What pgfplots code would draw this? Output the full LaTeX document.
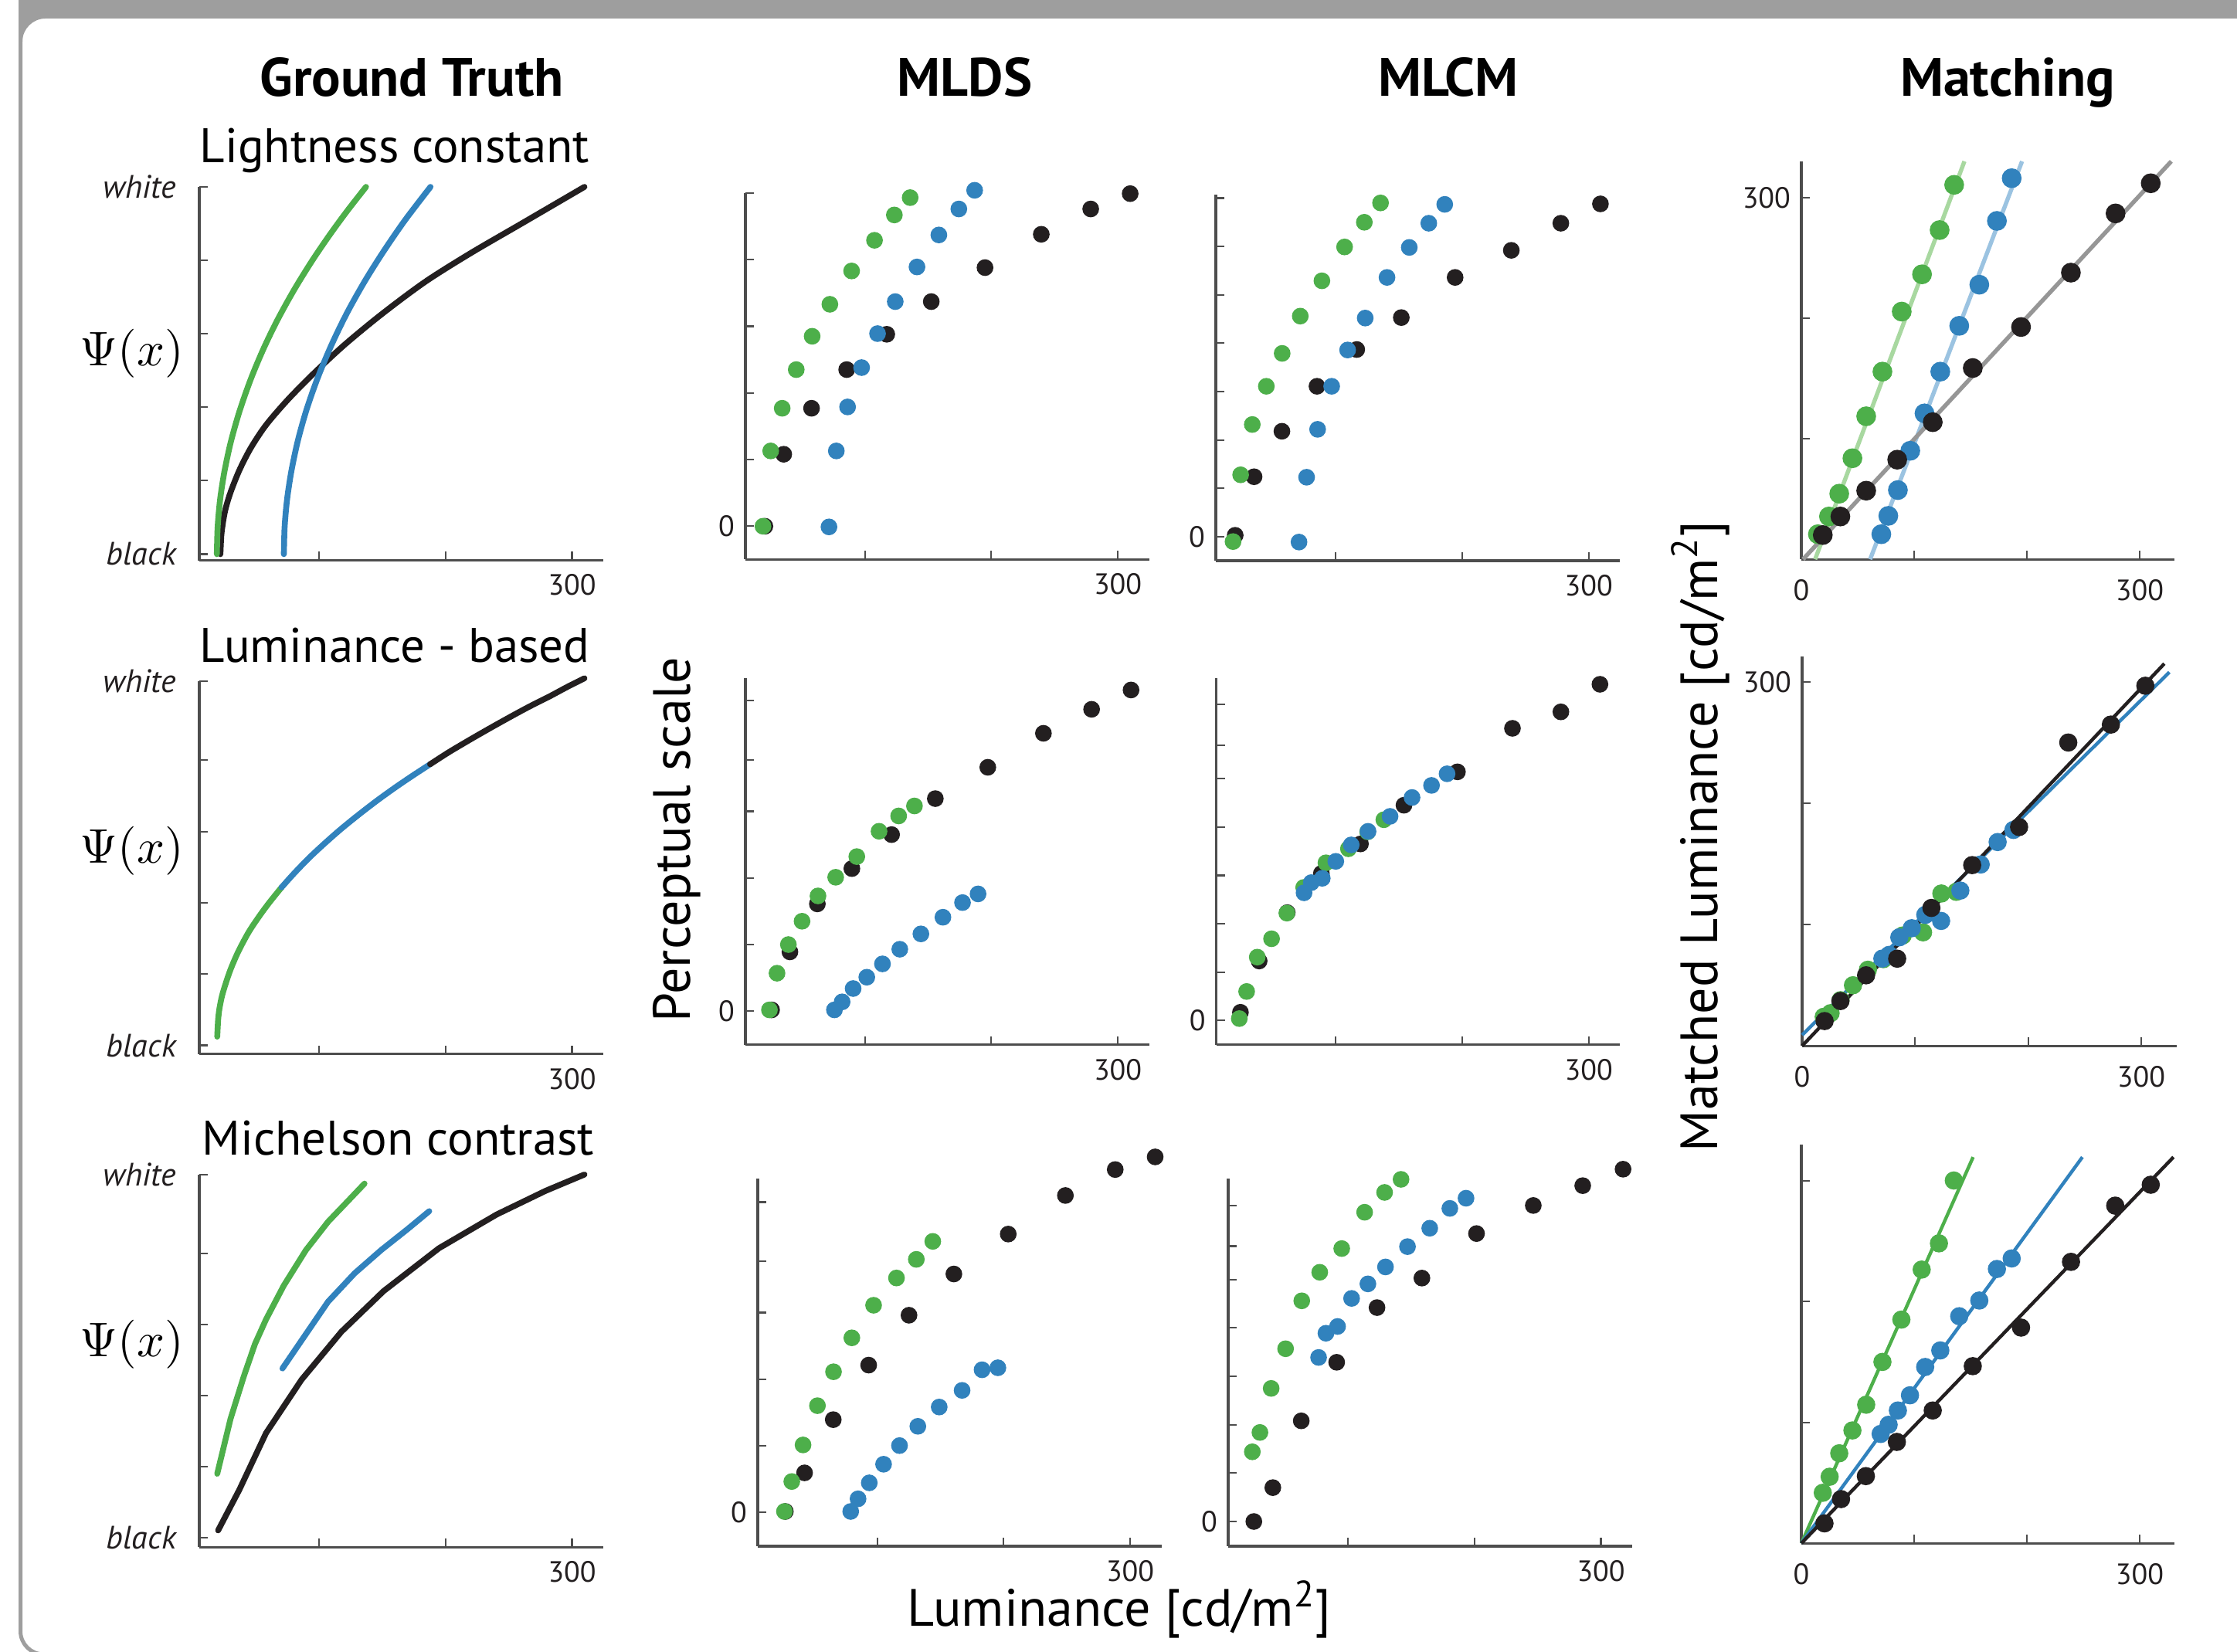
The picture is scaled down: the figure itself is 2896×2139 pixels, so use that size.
\documentclass[border=0pt]{standalone}
\usepackage{pgfplots}
\pgfplotsset{compat=1.18}
\usepackage{fontspec}
\setmainfont{PT Sans}

\definecolor{cgreen}{RGB}{77,175,74}
\definecolor{cblue}{RGB}{49,130,189}
\definecolor{cblack}{RGB}{35,31,32}
\definecolor{lgreen}{RGB}{168,216,160}
\definecolor{lblue}{RGB}{155,195,225}
\definecolor{cgray}{RGB}{150,150,150}
\definecolor{axisgray}{RGB}{77,77,77}
\definecolor{framegray}{RGB}{158,158,158}

\pgfplotsset{
  panel/.style={
    scale only axis, anchor=south west, clip=false,
    axis x line=bottom, axis y line=left,
    axis line style={-, draw=axisgray, line width=0.8pt},
    tick style={draw=axisgray, line width=0.55pt},
    tick align=inside, major tick length=2.8pt,
    tick label style={font=\fontsize{9.5}{11}\selectfont, text=cblack},
    /pgf/number format/assume math mode=true,
    xtick={100,200,300}, xticklabels={,,300},
    xticklabel style={yshift=-1pt},
  },
  gt/.style={panel, xmin=5.1, xmax=324.7, ymax=1,
    width=130.75pt,
    yticklabels={black,,,,,white},
    yticklabel style={font=\itshape\fontsize{10.5}{12}\selectfont, xshift=-4pt},
  },
  mlds/.style={panel, width=130.75pt, xmin=5.5, xmax=325},
  match/.style={panel, xmin=0,
    xtick={0,100,200,300}, xticklabels={0,,,300},
    ytick={100,200,300}, yticklabels={,,300},
    xticklabel style={yshift=-2pt},
  },
  gtline/.style={line width=1.9pt, line cap=round, line join=round},
  dots/.style={only marks, mark=*, mark size=2.5pt, mark options={draw=none}},
}

\begin{document}
\begin{tikzpicture}[x=0.25pt, y=0.25pt]
\useasboundingbox (0,0) rectangle (2896,2139);
\fill[white] (0,0) rectangle (2896,2139);
% frame
\fill[framegray] (24,2139-24) rectangle (2900,2145);
\fill[framegray] (29,2139-24) -- (29,2139-54) arc[start angle=180, end angle=90, radius=30] -- cycle;
\draw[framegray, line width=1.25pt] (26.5,2145) -- (26.5,2139-2112) arc[start angle=180, end angle=270, radius=30] -- (2900,2139-2142);

% corners of the panels (bottom left)
\coordinate (gt1) at (258,2139-725.6);
\coordinate (gt2) at (258,2139-1364.9);
\coordinate (gt3) at (258,2139-2003.2);
\coordinate (ds1) at (965,2139-724.3);
\coordinate (ds2) at (965,2139-1352.9);
\coordinate (ds3) at (981,2139-2002);
\coordinate (cm1) at (1574,2139-726);
\coordinate (cm2) at (1574.6,2139-1352.9);
\coordinate (cm3) at (1590,2139-2002);
\coordinate (mt1) at (2332,2139-724.2);
\coordinate (mt2) at (2333,2139-1354.3);
\coordinate (mt3) at (2332,2139-1998.3);

% column headers
\begin{scope}[every node/.style={anchor=base, inner sep=0pt, font=\bfseries\fontsize{17.5}{20}\selectfont}]
\node at (533,2139-125) {Ground Truth};
\node at (1249,2139-125) {MLDS};
\node at (1875,2139-125) {MLCM};
\node at (2599,2139-125) {Matching};
\end{scope}

\begin{scope}[every node/.style={anchor=base west, inner sep=0pt, font=\fontsize{15.7}{18}\selectfont}]
\node at (258,2139-211) {Lightness constant};
\node at (258,2139-857.6) {Luminance - based};
\node at (261,2139-1495.7) {Michelson contrast};
\end{scope}

\begin{scope}[every node/.style={inner sep=0pt, scale=1.575}]
\node at (171,2139-458) {$\Psi(x)$};
\node at (171,2139-1102) {$\Psi(x)$};
\node at (171,2139-1741) {$\Psi(x)$};
\end{scope}

\begin{scope}[every node/.style={inner sep=0pt, font=\fontsize{17}{20}\selectfont}]
\node[rotate=90, anchor=base] at (893,2139-1087) {Perceptual scale};
\node[anchor=base] at (1449,2139-2106) {Luminance [cd/m\textsuperscript{2}]};
\node[rotate=90, anchor=base] at (2223,2139-1083) {Matched Luminance [cd/m\textsuperscript{2}]};
\end{scope}

% ---------------- Ground truth ----------------
\begin{axis}[gt, at={(gt1)}, height=120.9pt, ymin=-0.017,
  ytick={0,0.2,0.4,0.6,0.8,1}]
\addplot[cblack, gtline, smooth] coordinates {(21.8,0) (22.5,0.05) (24,0.09) (26,0.125) (30,0.17) (37,0.23) (46,0.29) (58,0.352) (75,0.42) (95,0.49) (120,0.57) (150,0.655) (184,0.742) (220,0.82) (260,0.9) (309.8,1.0)};
\addplot[cgreen, gtline, smooth] coordinates {(19,0) (19.5,0.065) (20.5,0.113) (22,0.16) (25,0.225) (30,0.305) (37,0.39) (46,0.478) (56,0.56) (67,0.638) (80,0.719) (94,0.797) (108,0.868) (122,0.934) (137,1.0)};
\addplot[cblue, gtline, smooth] coordinates {(72,0) (72.5,0.066) (73.5,0.114) (75,0.161) (78,0.227) (83,0.308) (90,0.394) (99,0.482) (110,0.572) (122,0.657) (136,0.743) (151,0.825) (168,0.91) (188,1.0)};
\end{axis}

\begin{axis}[gt, at={(gt2)}, height=120.7pt, ymin=-0.024,
  ytick={0,0.1957,0.391,0.587,0.783,1}]
\addplot[cgreen, gtline, smooth] coordinates {(19.3,0.024) (20,0.07) (21,0.10) (23,0.135) (26,0.17) (30,0.21) (36,0.258) (44,0.31) (52,0.352) (60,0.39) (70.2,0.434)};
\addplot[cblue, gtline, smooth] coordinates {(70.2,0.434) (80,0.472) (92,0.515) (105,0.557) (117.5,0.595) (131,0.633) (145.6,0.672) (160,0.708) (174,0.741) (187.7,0.772)};
\addplot[cblack, gtline, smooth] coordinates {(187.7,0.772) (202,0.804) (217,0.835) (233,0.867) (250,0.9) (266,0.93) (282,0.958) (296,0.984) (309.8,1.008)};
\end{axis}

\begin{axis}[gt, at={(gt3)}, height=120.6pt, ymin=-0.026,
  ytick={0,0.1957,0.391,0.587,0.783,1}]
\addplot[cblack, gtline] coordinates {(20,0.02) (36.8,0.132) (57.9,0.288) (86,0.435) (117.5,0.567) (150.9,0.679) (194.7,0.797) (240.4,0.890) (279,0.955) (309.8,1.0)};
\addplot[cgreen, gtline] coordinates {(19.3,0.176) (29.8,0.327) (40.4,0.445) (49.1,0.533) (57.9,0.601) (71.9,0.694) (89.5,0.792) (107,0.870) (124.6,0.934) (135.8,0.975)};
\addplot[cblue, gtline] coordinates {(70.9,0.466) (86,0.543) (107,0.650) (128,0.728) (149,0.792) (170,0.850) (187,0.899)};
\end{axis}

% ---------------- MLDS ----------------
\begin{axis}[mlds, at={(ds1)}, height=118.6pt, ymin=-0.497, ymax=5,
  ytick={0,1,2,3,4,5}, yticklabels={0,,,,,}]
\addplot[cblack, dots] coordinates {(20.9,0) (35.8,1.08) (57.8,1.77) (85.6,2.35) (117.3,2.88) (152.5,3.37) (195,3.88) (239.5,4.38) (278.6,4.76) (309.8,4.99)};
\addplot[cgreen, dots] coordinates {(19.4,0) (25.5,1.13) (34.6,1.77) (45.7,2.35) (58.3,2.85) (72.3,3.33) (89.5,3.83) (107.6,4.29) (123.3,4.67) (135.8,4.93)};
\addplot[cblue, dots] coordinates {(71.6,-0.01) (77.4,1.13) (86.3,1.79) (97.4,2.38) (110,2.89) (124,3.37) (141.2,3.89) (158.5,4.37) (174.3,4.76) (186.8,5.04)};
\end{axis}

\begin{axis}[mlds, at={(ds2)}, height=118.75pt, ymin=-0.505, ymax=5,
  ytick={0,1,2,3,3.77,4.66}, yticklabels={0,,,,,}]
\addplot[cblack, dots] coordinates {(26.2,0.02) (40.7,0.89) (62.4,1.61) (89.7,2.14) (121.1,2.65) (155.7,3.19) (197.2,3.66) (241.2,4.17) (279.3,4.53) (310.5,4.82)};
\addplot[cgreen, dots] coordinates {(24.5,0.02) (30.5,0.57) (39.5,1.0) (50.3,1.35) (62.9,1.73) (76.9,2.01) (93.6,2.32) (111.2,2.70) (126.7,2.93) (139.2,3.08)};
\addplot[cblue, dots] coordinates {(75.9,0.02) (82,0.14) (90.7,0.34) (101.5,0.51) (113.9,0.71) (127.6,0.93) (144.3,1.16) (161.7,1.41) (177.2,1.63) (189.5,1.76)};
\end{axis}

\begin{axis}[mlds, at={(ds3)}, height=118.9pt, ymin=-0.512, ymax=5.01,
  ytick={0,1,2,3,3.77,4.66}, yticklabels={0,,,,,}]
\addplot[cblack, dots] coordinates {(27.3,0.01) (42.5,0.59) (65.2,1.39) (93.2,2.21) (125.1,2.96) (160.6,3.58) (203.6,4.18) (248.8,4.76) (288.2,5.15) (319.8,5.34)};
\addplot[cgreen, dots] coordinates {(26.6,0.01) (32.4,0.46) (41.3,1.01) (52.7,1.6) (65.4,2.11) (79.9,2.62) (97.1,3.11) (115.2,3.52) (130.9,3.8) (143.9,4.07)};
\addplot[cblue, dots] coordinates {(79,0.01) (84.8,0.2) (93.7,0.44) (105,0.72) (117.6,1.0) (132.1,1.29) (149,1.58) (167.1,1.83) (182.9,2.14) (195.4,2.17)};
\end{axis}

% ---------------- MLCM ----------------
\begin{axis}[mlds, at={(cm1)}, height=118.55pt, xmax=324.6, ymin=-0.495, ymax=7.075,
  ytick={0,1,2,3,4,5,6,7}, yticklabels={0,,,,,,,}]
\addplot[cblack, dots] coordinates {(20.8,0.03) (35.7,1.24) (57.7,2.18) (85.4,3.11) (116.8,3.87) (152,4.53) (194.5,5.36) (238.9,5.92) (278,6.48) (309.3,6.88)};
\addplot[cgreen, dots] coordinates {(19.1,-0.1) (25.1,1.28) (34.3,2.32) (45.4,3.11) (57.9,3.79) (72.2,4.56) (89.3,5.29) (107.2,5.99) (122.8,6.5) (135.6,6.9)};
\addplot[cblue, dots] coordinates {(71.2,-0.11) (77.2,1.23) (85.9,2.22) (97,3.11) (109.6,3.86) (123.5,4.52) (140.7,5.36) (158.3,5.98) (173.7,6.48) (186.3,6.87)};
\end{axis}

\begin{axis}[mlds, at={(cm2)}, width=130.6pt, height=118.75pt, xmax=324.6, ymin=-0.503, ymax=7.08,
  ytick={0,1,2,3,4,5,5.69,6.53}, yticklabels={0,,,,,,,}]
\addplot[cblack, dots] coordinates {(24.6,0.17) (39.4,1.23) (61.6,2.23) (88.6,3.04) (119.5,3.65) (153.9,4.45) (196.2,5.14) (239.7,6.04) (278,6.38) (308.9,6.95)};
\addplot[cgreen, dots] coordinates {(23.7,0.04) (29.5,0.6) (37.9,1.31) (49.2,1.69) (61.3,2.22) (74.6,2.75) (92.2,3.26) (110,3.55) (125.2,3.9) (138,4.15)};
\addplot[cblue, dots] coordinates {(74.9,2.64) (80.6,2.85) (89.3,2.94) (100,3.29) (112.2,3.63) (125.5,3.91) (142.9,4.22) (160.3,4.61) (175.7,4.86) (188,5.1)};
\end{axis}

\begin{axis}[mlds, at={(cm3)}, height=118.9pt, xmin=5.2, xmax=324.7, ymin=-0.51, ymax=7.08,
  ytick={0,1,2,3,4,5,5.69,6.53}, yticklabels={0,,,,,,,}]
\addplot[cblack, dots] coordinates {(25.5,0) (40.5,0.7) (63,2.08) (91,3.29) (122.9,4.42) (158.4,5.03) (201.6,5.95) (246.5,6.53) (285.6,6.94) (317.5,7.28)};
\addplot[cgreen, dots] coordinates {(24.3,1.44) (30.3,1.84) (39.2,2.75) (50.6,3.57) (63.4,4.56) (77.6,5.15) (95,5.64) (113.1,6.39) (128.9,6.8) (141.9,7.07)};
\addplot[cblue, dots] coordinates {(76.7,3.39) (82.5,3.89) (91.7,4.03) (102.8,4.61) (115.7,4.91) (129.6,5.26) (147,5.68) (164.6,6.06) (180.5,6.47) (193.3,6.68)};
\end{axis}

% ---------------- Matching ----------------
\begin{axis}[match, at={(mt1)}, width=120.75pt, height=128.9pt, xmax=330.8, ymin=0, ymax=330.2]
\addplot[lgreen, line width=1.35pt] coordinates {(12.2,0) (144.6,330)};
\addplot[lblue, line width=1.35pt] coordinates {(61,0) (195.7,330)};
\addplot[cgray, line width=1.35pt] coordinates {(1.5,0) (328,330)};
\addplot[cgreen, dots, mark size=3pt] coordinates {(14.7,20.8) (24.5,35.5) (33.6,54.4) (45.3,83.8) (57.5,118.6) (71.9,155.6) (89,205.4) (107,236.3) (122.6,273) (135.5,310.5)};
\addplot[cblue, dots, mark size=3pt] coordinates {(70.9,20.8) (77.1,36) (85.6,57.4) (96.6,90) (109.2,121) (123.2,155.6) (140,193.6) (157.8,227.7) (173.4,280.6) (186.5,316)};
\addplot[cblack, dots, mark size=3pt] coordinates {(19,20.1) (34.6,35.5) (57.5,56.9) (85,82.6) (116.5,113.7) (152,158.6) (194.8,192.6) (239,237.7) (278.6,286.8) (309.8,311.8)};
\end{axis}

\begin{axis}[match, at={(mt2)}, width=121.25pt, height=126.1pt, xmax=331.5, ymin=0, ymax=321]
\addplot[cgreen, dots, mark size=2.75pt] coordinates {(19.1,24) (25.2,27) (34,37.7) (45,50) (58.2,62.8) (71.9,71.5) (89,91) (107,93.6) (123.2,125.6) (136.4,127)};
\addplot[cblue, dots, mark size=2.75pt] coordinates {(71,72) (77,75) (86,89.5) (97,97) (109,108) (123,103) (140,128) (158,149.5) (173,168) (187,178)};
\addplot[cblack, dots, mark size=2.75pt] coordinates {(19.9,20.5) (33.9,37) (56.6,58.2) (84.1,71.9) (114.4,113.7) (150.5,149) (192,180.4) (235.5,250) (273.2,264.8) (303.7,296.8)};
\addplot[cblue, line width=1.1pt] coordinates {(0,9) (325,308)};
\addplot[cblack, line width=1.1pt] coordinates {(0,0) (320.5,315)};
\end{axis}

\begin{axis}[match, at={(mt3)}, width=120.75pt, height=129.1pt, xmax=330.8, ymin=0, ymax=330,
  yticklabels={,,}]
\addplot[cgreen, dots, mark size=2.75pt] coordinates {(19,41.8) (25.1,55.1) (33.6,74.5) (45.3,93.4) (57.5,114.7) (71.9,150.1) (88.7,185.1) (106.7,226.5) (122,248.2) (135.2,300.2)};
\addplot[cblue, dots, mark size=2.75pt] coordinates {(70.3,90.5) (77.4,98.1) (85.6,109.9) (96.3,122.5) (109.8,145.9) (123.2,159.6) (140,187.9) (157.8,200.9) (173.4,227) (186.5,235.7)};
\addplot[cblack, dots, mark size=2.75pt] coordinates {(20.5,16.5) (35.2,36.6) (57.2,55.6) (84.7,83.9) (116.5,109.9) (152,146.6) (194.8,178.5) (239.1,232.9) (278.3,279.4) (309.8,296.7)};
\addplot[cgreen, line width=1.1pt] coordinates {(0,0) (152.3,319.6)};
\addplot[cblue, line width=1.1pt] coordinates {(0,0) (249.2,319.6)};
\addplot[cblack, line width=1.1pt] coordinates {(0,0) (330,319.6)};
\end{axis}
\end{tikzpicture}
\end{document}
